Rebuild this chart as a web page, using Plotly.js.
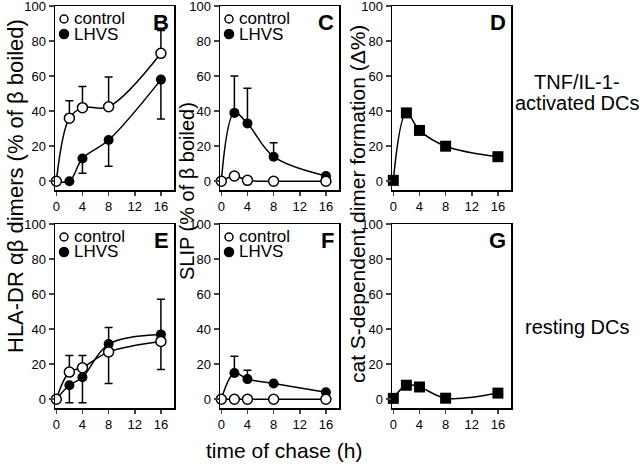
<!DOCTYPE html>
<html><head><meta charset="utf-8">
<script src="https://cdn.plot.ly/plotly-3.0.1.min.js"></script>
<style>html,body{margin:0;padding:0;background:#fff}#chart{width:640px;height:467px}</style>
</head><body><div id="chart"></div>
<script>
// ---- data ----
const times = [0, 2, 4, 8, 16];
const xTicks = [0, 4, 8, 12, 16];
const yTicks = [0, 20, 40, 60, 80, 100];
const seriesNames = ['control', 'LHVS'];
const panelLetters = ['B', 'C', 'D', 'E', 'F', 'G'];
const rowLabelsTop = ['TNF/IL-1-', 'activated DCs'];
const rowLabelsBottom = ['resting DCs'];
const yTitles = ['HLA-DR αβ dimers (% of β boiled)', 'SLIP (% of β boiled)', 'cat S-dependent dimer formation (Δ%)'];
const xTitle = 'time of chase (h)';

// B: HLA-DR dimers, activated DCs
const hlaActControl = [0, 36, 42, 42.5, 73];
const hlaActControlErrUp = [0, 10, 12, 17, 13];
const hlaActLhvs = [0, 0, 13, 23.5, 58];
const hlaActLhvsErrDown = [0, 0, 8.5, 15, 22.5];
// C: SLIP, activated DCs
const slipActControl = [0, 3, 0.5, 0, 0];
const slipActLhvs = [0, 39, 33, 14, 3];
const slipActLhvsErrUp = [0, 21, 20, 8, 0];
// D: cat S-dependent, activated DCs
const catSAct = [0.5, 39, 29, 20, 14];
// E: HLA-DR dimers, resting DCs
const hlaRestControl = [0, 15.5, 18, 27, 33];
const hlaRestControlErrUp = [0, 9.5, 7, 0, 0];
const hlaRestControlErrDown = [0, 0, 0, 18, 16];
const hlaRestLhvs = [0, 8, 12.5, 31.5, 37];
const hlaRestLhvsErrUp = [0, 0, 0, 9.5, 20];
const hlaRestLhvsErrDown = [0, 10, 14.5, 0, 0];
// F: SLIP, resting DCs
const slipRestControl = [0, 0, 0, 0, 0];
const slipRestLhvs = [0, 15, 11.5, 9, 4];
const slipRestLhvsErrUp = [0, 9.5, 5, 0, 0];
// G: cat S-dependent, resting DCs
const catSRest = [0.5, 8, 7, 0.6, 3.5];

// ---- geometry (pixels) ----
const W = 640, H = 467;
const cols = [[55, 174], [220, 339], [392, 511]];
const rows = [[6, 190], [224, 408]];
const px = v => v / W;
const py = v => 1 - v / H;
const FONT = 'Arial, "Liberation Sans", Helvetica, sans-serif';

function axId(p) { return p === 0 ? '' : String(p + 1); }

const zeros = times.map(() => 0);
function series(p, y, kind, up, down) {
  const id = axId(p);
  const marker = kind === 'open'
    ? {symbol: 'circle', size: 10, color: '#fff', line: {color: '#000', width: 1.5}}
    : kind === 'filled'
      ? {symbol: 'circle', size: 10, color: '#000', line: {color: '#000', width: 0}}
      : {symbol: 'square', size: 11, color: '#000', line: {color: '#000', width: 0}};
  const t = {
    x: times, y: y, type: 'scatter', mode: 'lines+markers',
    xaxis: 'x' + id, yaxis: 'y' + id,
    line: {color: '#000', width: 1.5, shape: 'spline', smoothing: 1},
    marker: marker, showlegend: false, hoverinfo: 'skip', cliponaxis: false
  };
  if (up || down) {
    t.error_y = {type: 'data', symmetric: false, array: up || zeros, arrayminus: down || zeros,
      color: '#000', thickness: 1.5, width: 4};
  }
  return t;
}

const data = [
  series(0, hlaActLhvs, 'filled', null, hlaActLhvsErrDown),
  series(0, hlaActControl, 'open', hlaActControlErrUp, null),
  series(1, slipActLhvs, 'filled', slipActLhvsErrUp, null),
  series(1, slipActControl, 'open', null, null),
  series(2, catSAct, 'square', null, null),
  series(3, hlaRestLhvs, 'filled', hlaRestLhvsErrUp, hlaRestLhvsErrDown),
  series(3, hlaRestControl, 'open', hlaRestControlErrUp, hlaRestControlErrDown),
  series(4, slipRestLhvs, 'filled', slipRestLhvsErrUp, null),
  series(4, slipRestControl, 'open', null, null),
  series(5, catSRest, 'square', null, null)
];

const layout = {
  width: W, height: H,
  margin: {l: 0, r: 0, t: 0, b: 0},
  paper_bgcolor: '#fff', plot_bgcolor: '#fff',
  showlegend: false,
  font: {family: FONT, color: '#000'},
  annotations: [], shapes: []
};

for (let p = 0; p < 6; p++) {
  const r = Math.floor(p / 3), c = p % 3;
  const id = axId(p);
  const [L, R] = cols[c];
  const [T, B] = rows[r];
  layout['xaxis' + id] = {
    domain: [px(L), px(R)], anchor: 'y' + id, range: [-0.2, 18],
    tickvals: xTicks, ticktext: xTicks.map(String), ticks: 'outside', ticklen: 4, tickwidth: 1.5,
    showline: true, mirror: true, linecolor: '#000', linewidth: 1.5,
    showgrid: false, zeroline: false, fixedrange: true, ticklabeloverflow: 'allow',
    tickfont: {family: FONT, size: 13, color: '#000'}
  };
  layout['yaxis' + id] = {
    domain: [py(B), py(T)], anchor: 'x' + id, range: [-5, 100],
    tickvals: yTicks, ticktext: yTicks.map(String), ticks: 'outside', ticklen: 5, tickwidth: 1.5,
    showline: true, mirror: true, linecolor: '#000', linewidth: 1.5,
    showgrid: false, zeroline: false, fixedrange: true, ticklabeloverflow: 'allow',
    tickfont: {family: FONT, size: 13, color: '#000'}
  };
  // panel letter
  layout.annotations.push({
    xref: 'paper', yref: 'paper', x: px(R - 3), y: py(T + 16),
    xanchor: 'right', yanchor: 'middle', showarrow: false,
    text: '<b>' + panelLetters[p] + '</b>', font: {family: FONT, size: 22, color: '#000'}
  });
  // legends for two-series panels
  if (c < 2) {
    const ys = [T + 13, T + 28];
    seriesNames.forEach((name, i) => {
      const cx = L + 9, cy = ys[i], rad = i === 0 ? 4 : 4.5;
      layout.shapes.push({
        type: 'circle', xref: 'paper', yref: 'paper',
        x0: px(cx - rad), x1: px(cx + rad), y0: py(cy + rad), y1: py(cy - rad),
        fillcolor: i === 0 ? '#fff' : '#000', line: {color: '#000', width: 1.5}
      });
      layout.annotations.push({
        xref: 'paper', yref: 'paper', x: px(L + 17), y: py(cy),
        xanchor: 'left', yanchor: 'middle', showarrow: false,
        text: name, font: {family: FONT, size: 17, color: '#000'}
      });
    });
  }
}

// axis titles
const yTitleX = [15, 187, 358];
const yTitleY = [186, 191, 204];
const yTitleSize = [22, 20, 21];
yTitles.forEach((t, i) => {
  layout.annotations.push({
    xref: 'paper', yref: 'paper', x: px(yTitleX[i]), y: py(yTitleY[i]),
    xanchor: 'center', yanchor: 'middle', textangle: -90, showarrow: false,
    text: t, font: {family: FONT, size: yTitleSize[i], color: '#000'}
  });
});
layout.annotations.push({
  xref: 'paper', yref: 'paper', x: px(284), y: py(450),
  xanchor: 'center', yanchor: 'middle', showarrow: false,
  text: xTitle, font: {family: FONT, size: 21, color: '#000'}
});
// row labels
[[rowLabelsTop, [82, 103]], [rowLabelsBottom, [327]]].forEach(([labels, ys]) => {
  labels.forEach((t, i) => {
    layout.annotations.push({
      xref: 'paper', yref: 'paper', x: px(577), y: py(ys[i]),
      xanchor: 'center', yanchor: 'middle', showarrow: false,
      text: t, font: {family: FONT, size: 20, color: '#000'}
    });
  });
});

Plotly.newPlot('chart', data, layout, {displayModeBar: false, staticPlot: true});
</script>
</body></html>
